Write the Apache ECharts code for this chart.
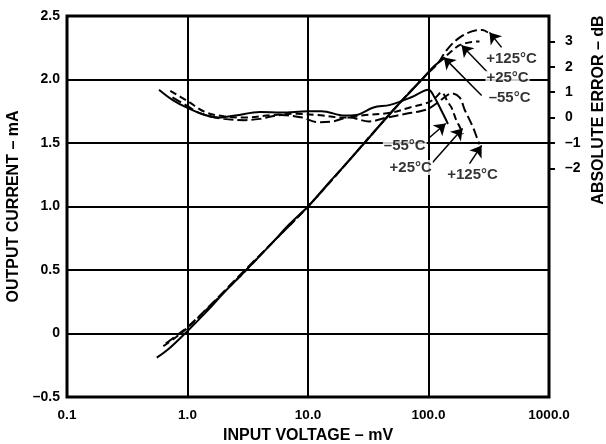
<!DOCTYPE html>
<html><head><meta charset="utf-8">
<script src="https://cdn.jsdelivr.net/npm/echarts@6/dist/echarts.min.js"></script>
<style>html,body{margin:0;padding:0;background:#fff}#c{width:606px;height:444px}</style>
</head><body><div id="c"></div>
<script>
// ---- axis ticks ----
const xTicks = [0.1, 1, 10, 100, 1000];
const yLeftRange = [-0.5, 2.5];
const yRightRange = [-11, 4];
const yRightLabels = [-2, -1, 0, 1, 2, 3];

// ---- transfer curves (input mV -> output mA) ----
const trM55X = [0.556, 0.7, 1.0, 1.5, 2.0, 3.0, 5.0, 7.0, 10, 15, 20, 30, 50, 70, 90, 110, 136];
const trM55Y = [-0.19, -0.12, 0.02, 0.19, 0.32, 0.49, 0.71, 0.86, 1.0, 1.19, 1.32, 1.51, 1.75, 1.90, 2.01, 2.10, 2.17];
const tr25X = [0.63, 0.8, 1.0, 1.5, 2.0, 3, 5, 10, 20, 50, 90, 120, 150, 181, 227, 265];
const tr25Y = [-0.1, -0.03, 0.045, 0.205, 0.325, 0.49, 0.71, 1.0, 1.32, 1.75, 2.01, 2.13, 2.21, 2.27, 2.295, 2.30];
const tr125X = [0.66, 0.8, 1.0, 1.5, 2.0, 3, 5, 10, 20, 50, 90, 120, 141, 181, 249, 280, 311];
const tr125Y = [-0.08, -0.02, 0.05, 0.21, 0.33, 0.5, 0.71, 1.0, 1.32, 1.75, 2.01, 2.13, 2.23, 2.33, 2.387, 2.39, 2.37];

// ---- absolute error curves (input mV -> error dB) ----
const erM55X = [0.58, 0.75, 1.0, 1.4, 1.8, 2.5, 4, 6, 10, 13, 20, 25, 35, 48, 72, 100, 112, 132, 145];
const erM55Y = [1.10, 0.70, 0.38, 0.10, 0.0, 0.08, 0.22, 0.20, 0.25, 0.25, 0.08, 0.10, 0.40, 0.50, 0.80, 1.10, 0.80, 0.15, -0.25];
const er25X = [0.72, 1.0, 1.4, 2, 3, 5, 8, 12, 20, 30, 50, 70, 100, 115, 128, 145, 155, 170, 181, 193];
const er25Y = [1.05, 0.65, 0.22, 0.05, 0.0, 0.10, 0.15, 0.10, 0.0, 0.10, 0.20, 0.40, 0.60, 0.80, 1.00, 0.60, 0.40, -0.10, -0.35, -0.65];
const er125X = [0.75, 1.0, 1.3, 2, 3, 4, 6, 9, 12, 16, 22, 32, 45, 65, 85, 100, 120, 140, 155, 181, 200, 234, 257, 265];
const er125Y = [0.80, 0.45, 0.15, -0.05, -0.10, -0.05, 0.10, 0.0, -0.18, -0.15, 0.0, -0.15, 0.0, 0.15, 0.25, 0.35, 0.60, 0.85, 0.95, 0.80, 0.30, -0.38, -0.90, -1.05];

// ---- annotations (data coords on left axis) ----
const annText = ['+125°C', '+25°C', '–55°C', '–55°C', '+25°C', '+125°C'];
const annX = [489, 453, 471, 63.5, 71.2, 232];
const annY = [2.166, 2.009, 1.859, 1.48, 1.307, 1.252];
const arrowFromX = [404, 309, 276, 102, 108, 219];
const arrowFromY = [2.253, 2.057, 1.874, 1.543, 1.347, 1.338];
const arrowToX = [321, 188, 134, 139, 192, 276];
const arrowToY = [2.371, 2.269, 2.174, 1.654, 1.615, 1.48];

const FONT = "'Liberation Sans', Arial, Helvetica, sans-serif";
const zip = (a, b) => a.map((v, i) => [v, b[i]]);

const lineSeries = (x, y, axis, type) => ({
  type: 'line', yAxisIndex: axis, data: zip(x, y), smooth: 0.35, showSymbol: false,
  symbol: 'none', lineStyle: { color: '#000', width: 2, type: type }, z: 3
});

const chart = echarts.init(document.getElementById('c'), null, { renderer: 'canvas' });
chart.setOption({
  animation: false,
  backgroundColor: '#fff',
  textStyle: { fontFamily: FONT },
  grid: { left: 67, right: 57, top: 16, bottom: 47, outerBoundsMode: 'none', containLabel: false,
    show: true, borderColor: '#000', borderWidth: 3, backgroundColor: 'transparent' },
  xAxis: {
    type: 'log', logBase: 10, min: xTicks[0], max: xTicks[xTicks.length - 1],
    axisLine: { show: false }, axisTick: { show: false }, minorTick: { show: false },
    splitLine: { show: true, lineStyle: { color: '#000', width: 2 } },
    axisLabel: { color: '#000', fontSize: 13.5, fontWeight: 'bold', fontFamily: FONT, margin: 11,
      formatter: v => v < 1 ? '0.1' : Number(v).toFixed(1) },
    name: 'INPUT VOLTAGE – mV', nameLocation: 'middle', nameGap: 31,
    nameTextStyle: { color: '#000', fontSize: 16, fontWeight: 'bold', fontFamily: FONT }
  },
  yAxis: [{
    type: 'value', min: yLeftRange[0], max: yLeftRange[1], interval: 0.5,
    axisLine: { show: false }, axisTick: { show: false },
    splitLine: { show: true, lineStyle: { color: '#000', width: 2 } },
    axisLabel: { color: '#000', fontSize: 14, fontWeight: 'bold', fontFamily: FONT, margin: 7,
      formatter: v => v === 0 ? '0' : (v < 0 ? '–' + Math.abs(v).toFixed(1) : v.toFixed(1)) },
    name: 'OUTPUT CURRENT – mA', nameLocation: 'middle', nameGap: 44,
    nameTextStyle: { color: '#000', fontSize: 16, fontWeight: 'bold', fontFamily: FONT }
  }, {
    type: 'value', position: 'right', min: yRightRange[0], max: yRightRange[1], interval: 1,
    axisLine: { show: false }, splitLine: { show: false },
    axisTick: { show: true, inside: false, length: 6, customValues: yRightLabels, lineStyle: { color: '#000', width: 2 } },
    axisLabel: { color: '#000', fontSize: 14, fontWeight: 'bold', fontFamily: FONT, margin: 16, customValues: yRightLabels,
      formatter: v => v < 0 ? '–' + Math.abs(v) : String(v) }
  }],
  graphic: [{
    type: 'text', x: 599, y: 110, rotation: Math.PI / 2,
    style: { text: 'ABSOLUTE ERROR – dB', fill: '#000', font: "bold 16px " + FONT, align: 'center', verticalAlign: 'middle' }
  }],
  series: [
    lineSeries(trM55X, trM55Y, 0, 'solid'),
    lineSeries(tr25X, tr25Y, 0, [7, 4]),
    lineSeries(tr125X, tr125Y, 0, [10, 4]),
    lineSeries(erM55X, erM55Y, 1, 'solid'),
    lineSeries(er25X, er25Y, 1, [7, 4]),
    lineSeries(er125X, er125Y, 1, [10, 4]),
    {
      type: 'scatter', yAxisIndex: 0, symbolSize: 0, z: 5,
      data: annText.map((t, i) => ({ name: t, value: [annX[i], annY[i]] })),
      label: { show: true, position: 'inside', formatter: '{b}', color: '#000', fontSize: 15, fontWeight: 'bold',
        fontFamily: FONT, backgroundColor: '#fff', padding: [0, 1] },
      markLine: {
        silent: true, symbol: ['none', 'arrow'], symbolSize: 11, label: { show: false },
        lineStyle: { color: '#000', width: 1.5, type: 'solid' },
        data: arrowFromX.map((x, i) => [{ coord: [x, arrowFromY[i]] }, { coord: [arrowToX[i], arrowToY[i]] }])
      }
    }
  ]
});
</script></body></html>
